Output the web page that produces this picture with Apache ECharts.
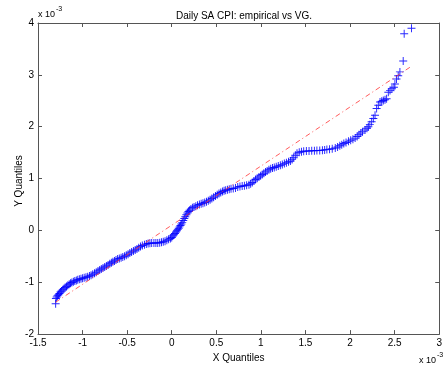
<!DOCTYPE html>
<html>
<head>
<meta charset="utf-8">
<script src="https://cdn.jsdelivr.net/npm/echarts@6/dist/echarts.min.js"></script>
<style>
html,body{margin:0;padding:0;background:#fff;}
#c{width:445px;height:368px;}
</style>
</head>
<body>
<div id="c"></div>
<script>
// Theoretical (VG) quantiles, x 1e-3
var xq = [
-1.302,-1.299,-1.29,-1.281,-1.27,-1.26,-1.248,-1.236,-1.222,-1.21,-1.196,-1.18,-1.165,-1.15,-1.135,-1.12,-1.103,-1.087,-1.07,-1.054,-1.036,-1.018,-1.0,
-0.982,-0.962,-0.943,-0.923,-0.905,-0.886,-0.866,-0.847,-0.827,-0.808,-0.79,-0.771,-0.752,-0.733,-0.714,-0.695,-0.677,-0.66,-0.642,-0.625,-0.607,-0.588,-0.568,-0.549,-0.529,-0.51,-0.49,-0.47,-0.45,-0.43,
-0.41,-0.39,-0.37,-0.35,-0.33,-0.306,-0.285,-0.265,-0.245,-0.225,-0.2,-0.178,-0.157,-0.135,-0.115,-0.095,-0.075,-0.055,-0.035,-0.015,0.0,
0.012,0.024,0.036,0.048,0.058,0.068,0.078,0.088,0.098,0.108,0.118,0.129,0.141,0.152,0.164,0.176,0.188,0.2,0.215,0.232,0.25,0.27,0.289,0.31,0.33,0.35,0.37,0.39,0.41,0.43,0.45,0.47,0.49,
0.51,0.53,0.55,0.57,0.587,0.605,0.625,0.645,0.665,0.69,0.715,0.74,0.765,0.79,0.815,0.84,0.866,0.885,0.903,0.922,0.94,
0.958,0.978,0.997,1.015,1.033,1.052,1.07,1.09,1.11,1.13,1.15,1.172,1.195,1.218,1.24,1.263,1.286,1.31,1.331,1.35,1.368,1.386,1.405,
1.43,1.455,1.48,1.51,1.54,1.57,1.6,1.628,1.66,1.69,1.715,1.74,1.77,1.8,1.834,
1.86,1.885,1.907,1.93,1.955,1.982,2.007,2.032,2.057,2.08,2.1,2.12,2.14,2.168,2.19,2.205,2.222,2.242,2.261,2.28,
2.298,2.317,2.336,2.355,2.373,2.392,2.41,2.429,2.448,2.47,2.492,2.503,2.521,2.54,2.559,2.596,2.607,2.689
];
// Empirical quantiles (sorted daily SA CPI), x 1e-3
var yq = [
-1.414,-1.313,-1.285,-1.262,-1.24,-1.215,-1.19,-1.168,-1.145,-1.125,-1.102,-1.08,-1.058,-1.04,-1.02,-1.003,-0.99,-0.977,-0.964,-0.953,-0.943,-0.933,-0.925,
-0.915,-0.904,-0.893,-0.878,-0.866,-0.848,-0.826,-0.806,-0.785,-0.765,-0.745,-0.726,-0.706,-0.687,-0.666,-0.645,-0.624,-0.606,-0.588,-0.571,-0.554,-0.54,-0.526,-0.512,-0.497,-0.478,-0.458,-0.437,-0.416,-0.398,
-0.38,-0.358,-0.334,-0.31,-0.29,-0.275,-0.262,-0.252,-0.246,-0.244,-0.244,-0.245,-0.245,-0.238,-0.228,-0.218,-0.207,-0.19,-0.173,-0.156,-0.135,
-0.11,-0.085,-0.058,-0.032,-0.008,0.015,0.04,0.068,0.095,0.125,0.155,0.19,0.23,0.265,0.3,0.335,0.365,0.39,0.415,0.435,0.452,0.468,0.484,0.498,0.512,0.525,0.538,0.552,0.57,0.59,0.615,0.64,0.665,
0.688,0.71,0.73,0.75,0.765,0.776,0.786,0.794,0.802,0.81,0.82,0.835,0.845,0.855,0.862,0.87,0.882,0.9,0.925,0.955,0.98,
1.005,1.03,1.053,1.078,1.1,1.125,1.148,1.168,1.188,1.202,1.214,1.228,1.243,1.258,1.273,1.288,1.305,1.322,1.338,1.365,1.4,1.45,1.49,
1.508,1.518,1.527,1.53,1.533,1.535,1.537,1.539,1.543,1.548,1.553,1.558,1.565,1.575,1.59,
1.61,1.632,1.653,1.675,1.695,1.717,1.738,1.76,1.78,1.81,1.845,1.88,1.905,1.937,1.97,2.0,2.04,2.097,2.159,2.222,
2.349,2.412,2.476,2.49,2.507,2.52,2.539,2.666,2.696,2.73,2.761,2.824,2.918,2.981,3.057,3.266,3.791,3.899
];
// Reference line (through quartiles, extended to data range)
var refLineX = [-1.302, 2.689];
var refLineY = [-1.384, 3.166];

var titleText = 'Daily SA CPI: empirical vs VG.';
var xLabel = 'X Quantiles';
var yLabel = 'Y Quantiles';

var pts = xq.map(function(v,i){return [v, yq[i]];});
var linePts = refLineX.map(function(v,i){return [v, refLineY[i]];});

var FONT = "'Liberation Sans', Arial, Helvetica, sans-serif";
var AX = '#555555';
var plus = 'path://M0,4.4L10,4.4L10,5.6L0,5.6Z M4.4,0L5.6,0L5.6,10L4.4,10Z';

var chart = echarts.init(document.getElementById('c'), null, {renderer:'canvas'});
function ax(extra){
  return Object.assign({
    type:'value',
    axisLine:{show:true, onZero:false, lineStyle:{color:AX, width:1}},
    axisTick:{show:true, inside:true, length:4, lineStyle:{color:AX, width:1}},
    splitLine:{show:false}
  }, extra);
}
chart.setOption({
  animation:false,
  backgroundColor:'#ffffff',
  title:{
    text:titleText, left:239, top:6, textAlign:'center',
    textStyle:{fontFamily:FONT, fontSize:10, fontWeight:'normal', color:'#000'}
  },
  grid:{left:38, top:23, width:403, height:316, containLabel:false},
  xAxis:[
    ax({
      position:'bottom', min:-1.5, max:3, interval:0.5,
      axisLabel:{show:true, color:'#000', fontFamily:FONT, fontSize:10, margin:4},
      name:xLabel, nameLocation:'middle', nameGap:16,
      nameTextStyle:{fontFamily:FONT, fontSize:10, color:'#000'}
    }),
    ax({
      position:'top', min:-1.5, max:3, interval:0.5,
      axisLabel:{show:false}
    })
  ],
  yAxis:[
    ax({
      position:'left', min:-2, max:4, interval:1,
      axisLabel:{show:true, color:'#000', fontFamily:FONT, fontSize:10, margin:4}
    }),
    ax({
      position:'right', min:-2, max:4, interval:1,
      axisLabel:{show:false}
    })
  ],
  graphic:[
    {type:'text', x:19, y:181, rotation:Math.PI/2,
      style:{text:yLabel, font:'10px '+FONT, fill:'#000', align:'center', verticalAlign:'middle'}},
    {type:'text', left:38, top:10, style:{text:'x 10', font:'9px '+FONT, fill:'#000'}},
    {type:'text', left:56, top:6, style:{text:'-3', font:'7px '+FONT, fill:'#000'}},
    {type:'text', left:419, top:356, style:{text:'x 10', font:'9px '+FONT, fill:'#000'}},
    {type:'text', left:437, top:352, style:{text:'-3', font:'7px '+FONT, fill:'#000'}}
  ],
  series:[
    {
      type:'scatter', xAxisIndex:0, yAxisIndex:0, data:pts,
      symbol:plus, symbolSize:8,
      itemStyle:{color:'#0000ff', opacity:0.85},
      z:2, silent:true
    },
    {
      type:'line', xAxisIndex:0, yAxisIndex:0, data:linePts,
      symbol:'none',
      lineStyle:{color:'#ff3030', width:0.8, type:[5,3,1,3]},
      z:3, silent:true
    }
  ]
});
</script>
</body>
</html>
